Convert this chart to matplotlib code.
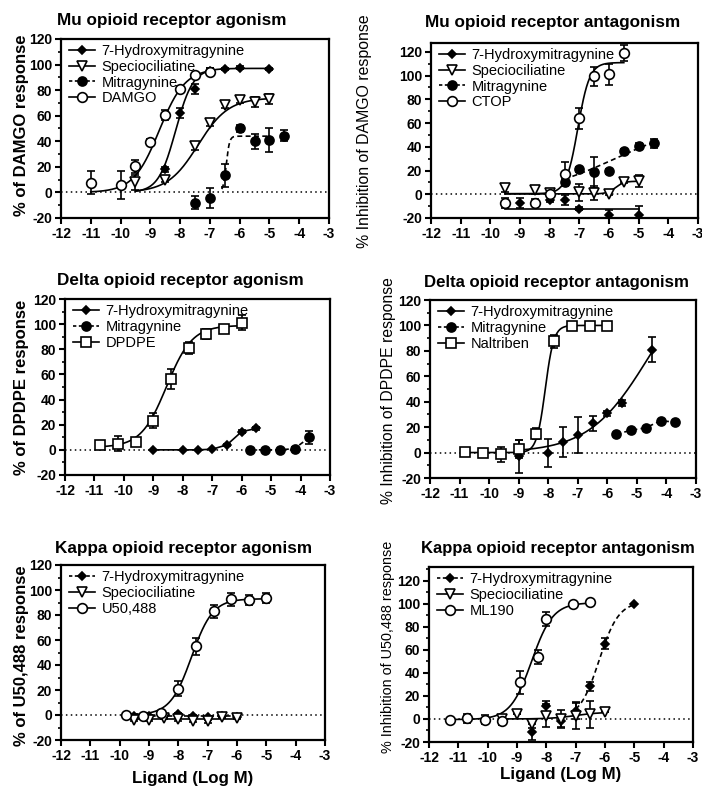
import numpy as np
import matplotlib
matplotlib.use("Agg")
import matplotlib.pyplot as plt
from matplotlib.lines import Line2D
from matplotlib.ticker import MultipleLocator

plt.rcParams['font.family'] = ['Liberation Sans', 'DejaVu Sans']
plt.rcParams['axes.unicode_minus'] = False

W, H = 702, 791

# ---------------- data (log M, % response, SEM) ----------------
# Mu agonism
mu_ag_oh_x = [-8.5, -8.0, -7.5, -7.0, -6.5, -6.0, -5.0]
mu_ag_oh_y = [18, 62, 81, 95, 96.5, 97.5, 96.5]
mu_ag_oh_e = [2, 4, 4, 2, 1, 1, 1]
mu_ag_oh_fit = [0, 97, -8.15, 1.5, -9.5, -5.0]

mu_ag_sp_x = [-9.5, -8.5, -7.5, -7.0, -6.5, -6.0, -5.5, -5.0]
mu_ag_sp_y = [8, 10, 36.5, 54, 68, 72, 70.5, 73]
mu_ag_sp_e = [6, 2, 3, 2, 2, 2, 4, 4]
mu_ag_sp_fit = [0, 74, -7.4, 0.85, -9.5, -5.0]

mu_ag_mg_x = [-7.5, -7.0, -6.5, -6.0, -5.5, -5.0, -4.5]
mu_ag_mg_y = [-8, -4.5, 13.5, 50, 40, 41, 44.5]
mu_ag_mg_e = [5, 8, 9, 3, 6, 9, 4]
mu_ag_mg_fit = [0, 44, -6.45, 8, -6.6, -5.0]

mu_ag_damgo_x = [-11.0, -10.0, -9.5, -9.0, -8.5, -8.0, -7.5, -7.0]
mu_ag_damgo_y = [7.5, 6, 20.5, 39.5, 60.5, 81, 91.5, 94.5]
mu_ag_damgo_e = [9, 11, 5, 2, 4, 2, 2, 3]
mu_ag_damgo_fit = [0, 97, -8.7, 1.0, -11.0, -7.0]

# Mu antagonism
mu_an_oh_x = [-9.0, -8.0, -7.5, -7.0, -6.0, -5.0]
mu_an_oh_y = [-7.5, -4.5, -5, -12, -17.5, -17.5]
mu_an_oh_e = [4, 2, 4, 1, 4, 8]
mu_an_oh_fit = [-12.5, -12.5, -7.0, 1.0, -9.5, -5.0]

mu_an_sp_x = [-9.5, -8.5, -8.0, -7.0, -6.5, -6.0, -5.5, -5.0]
mu_an_sp_y = [5, 3.5, 1, 1.5, 1, 0.5, 10.5, 11]
mu_an_sp_e = [3, 3, 1, 7, 6, 1, 1, 5]
mu_an_sp_fit = [0.3, 11, -5.78, 3.0, -9.5, -5.0]

mu_an_mg_x = [-7.5, -7.0, -6.5, -6.0, -5.5, -5.0, -4.5]
mu_an_mg_y = [10, 21, 18.5, 19.5, 36.5, 41, 43]
mu_an_mg_e = [3, 2, 13, 2, 2, 2, 4]
mu_an_mg_fit = [0, 60, -5.8, 0.33, -7.5, -4.5]

mu_an_ctop_x = [-9.5, -8.5, -8.0, -7.5, -7.0, -6.5, -6.0, -5.5]
mu_an_ctop_y = [-7.5, -7, 0, 17.5, 64, 99.5, 101, 119]
mu_an_ctop_e = [4, 3, 1, 10, 9, 8, 9, 7]
mu_an_ctop_fit = [0.5, 111, -7.05, 2.2, -9.5, -5.5]

# Delta agonism
de_ag_oh_x = [-9.0, -8.0, -7.5, -7.0, -6.5, -6.0, -5.5]
de_ag_oh_y = [0, 0, 0, 0.5, 4, 14.5, 17]
de_ag_oh_e = [0, 0, 0, 0, 1, 1, 1]

de_ag_mg_x = [-5.7, -5.2, -4.7, -4.2, -3.7]
de_ag_mg_y = [0, 0, 0, 1, 10]
de_ag_mg_e = [0, 0, 0, 1, 5]

de_ag_dp_x = [-10.8, -10.2, -9.6, -9.0, -8.4, -7.8, -7.2, -6.6, -6.0]
de_ag_dp_y = [4, 5, 6, 23, 56.5, 81, 92.5, 96.5, 101]
de_ag_dp_e = [3, 6, 3, 6, 8, 5, 4, 3, 6]
de_ag_dp_fit = [2, 99, -8.55, 1.0, -10.8, -6.0]

# Delta antagonism
de_an_oh_x = [-9.0, -8.0, -7.5, -7.0, -6.5, -6.0, -5.5, -4.5]
de_an_oh_y = [-3, 0, 8.5, 14, 23, 31, 39, 81]
de_an_oh_e = [13, 11, 12, 14, 6, 2, 2, 10]
de_an_oh_fit = [0, 150, -4.6, 0.43, -9.0, -4.5]

de_an_mg_x = [-5.7, -5.2, -4.7, -4.2, -3.7]
de_an_mg_y = [14.5, 17.5, 19.5, 25, 24]
de_an_mg_e = [1, 1, 1, 1, 1]

de_an_nt_x = [-10.8, -10.2, -9.6, -9.0, -8.4, -7.8, -7.2, -6.6, -6.0]
de_an_nt_y = [0.5, -0.5, -1.5, 2.5, 15, 87.5, 99.5, 99.5, 99.5]
de_an_nt_e = [2, 2, 6, 7, 4, 5, 1, 1, 1]
de_an_nt_fit = [0, 100, -8.1, 3.0, -10.8, -6.0]

# Kappa agonism
ka_ag_oh_x = [-9.5, -9.0, -8.5, -8.0, -7.5, -7.0, -6.5, -6.0]
ka_ag_oh_y = [-0.5, -1, -1, 1, -1, -1.5, -1, -1.5]
ka_ag_oh_e = [1, 1, 1, 1, 1, 1, 1, 1]
ka_ag_oh_fit = [-1, -1, -8.0, 1.0, -9.5, -6.0]

ka_ag_sp_x = [-9.5, -9.0, -8.5, -8.0, -7.5, -7.0, -6.5, -6.0]
ka_ag_sp_y = [-4, -4, -2.5, -3.5, -4.5, -5, -1.5, -2.5]
ka_ag_sp_e = [1, 1, 1, 1, 1, 1, 1, 1]
ka_ag_sp_fit = [-3.2, -3.2, -8.0, 1.0, -9.5, -6.0]

ka_ag_u50_x = [-9.8, -9.2, -8.6, -8.0, -7.4, -6.8, -6.2, -5.6, -5.0]
ka_ag_u50_y = [0, -0.5, 1.5, 21, 55, 83, 92.5, 92, 93.5]
ka_ag_u50_e = [1, 1, 1, 6, 7, 5, 5, 4, 4]
ka_ag_u50_fit = [0, 93, -7.55, 1.2, -9.8, -5.0]

# Kappa antagonism
ka_an_oh_x = [-8.5, -8.0, -7.5, -7.0, -6.5, -6.0, -5.0]
ka_an_oh_y = [-11, 11, -2, 7, 28.5, 65.5, 99.5]
ka_an_oh_e = [7, 5, 5, 7, 4, 5, 0]
ka_an_oh_fit = [0, 102, -6.2, 1.3, -7.0, -5.0]

ka_an_sp_x = [-9.5, -9.0, -8.5, -8.0, -7.5, -7.0, -6.5, -6.0]
ka_an_sp_y = [0, 4.5, -4, 3, 0, 3, 4, 6]
ka_an_sp_e = [0, 0, 4, 10, 8, 12, 12, 0]
ka_an_sp_fit = [0, 6, -7.0, 1.0, -9.5, -6.0]

ka_an_ml_x = [-11.3, -10.7, -10.1, -9.5, -8.9, -8.3, -8.0, -7.1, -6.5]
ka_an_ml_y = [-1, 0.5, -0.5, -1.5, 32, 54, 87, 99.5, 101.5]
ka_an_ml_e = [1, 4, 4, 4, 10, 6, 6, 1, 1]
ka_an_ml_fit = [-0.5, 101, -8.5, 1.2, -11.3, -6.5]

titles = ["Mu opioid receptor agonism", "Mu opioid receptor antagonism",
          "Delta opioid receptor agonism", "Delta opioid receptor antagonism",
          "Kappa opioid receptor agonism", "Kappa opioid receptor antagonism"]
ylabels = ["% of DAMGO response", "% Inhibition of DAMGO response",
           "% of DPDPE response", "% Inhibition of DPDPE response",
           "% of U50,488 response", "% Inhibition of U50,488 response"]


def hill(x, bottom, top, logec50, slope):
    return bottom + (top - bottom) / (1 + 10 ** ((logec50 - x) * slope))


STY = {
    'oh': dict(marker='D', ms=4.2, mfc='k'),
    'sp': dict(marker='v', ms=6.5, mfc='white'),
    'mg': dict(marker='o', ms=6.5, mfc='k'),
    'ref_o': dict(marker='o', ms=7, mfc='white'),
    'ref_s': dict(marker='s', ms=6.8, mfc='white'),
}


def series(ax, x, y, e, kind, fit=None, connect=False, dashed=False):
    ls = (0, (3, 2)) if dashed else '-'
    if fit is not None:
        b, t, l, s, x0, x1 = fit
        xx = np.linspace(x0, x1, 300)
        ax.plot(xx, hill(xx, b, t, l, s), color='k', lw=1.2, ls=ls, zorder=2)
    elif connect:
        ax.plot(x, y, color='k', lw=1.2, ls=ls, zorder=2)
    ax.errorbar(x, y, yerr=e, fmt='none', ecolor='k', elinewidth=1.2,
                capsize=3.2, capthick=1.2, zorder=3)
    st = STY[kind]
    ax.plot(x, y, ls='none', marker=st['marker'], ms=st['ms'], mfc=st['mfc'],
            mec='k', mew=1.2, zorder=4)


def handle(kind, dashed=False):
    st = STY[kind]
    return Line2D([], [], color='k', lw=1.2, ls=(0, (2, 1.5)) if dashed else '-',
                  marker=st['marker'], ms=st['ms'], mfc=st['mfc'], mec='k', mew=1.2)


fig = plt.figure(figsize=(W / 100, H / 100), dpi=100)

# axes boxes in pixels: left, right, top, bottom, ymax
boxes = [(61, 329, 39, 218, 120), (431, 698, 43, 218, 127.5),
         (65, 330, 299, 475, 120), (430, 696, 300, 478, 120),
         (61, 325, 565, 740, 120), (429, 693, 567, 742, 132)]
axes = []
for (l, r, t, b, ym) in boxes:
    ax = fig.add_axes([l / W, 1 - b / H, (r - l) / W, (b - t) / H])
    ax.set_xlim(-12, -3)
    ax.set_ylim(-20, ym)
    ax.set_xticks(np.arange(-12, -2, 1))
    ax.set_yticks(np.arange(-20, 121, 20))
    ax.yaxis.set_minor_locator(MultipleLocator(10))
    ax.tick_params(axis='both', which='major', direction='out', length=4.5,
                   width=1.5, labelsize=10, pad=2)
    ax.tick_params(axis='y', which='minor', direction='out', length=2.5, width=1.2)
    for lab in ax.get_xticklabels() + ax.get_yticklabels():
        lab.set_fontweight('bold')
    for sp in ax.spines.values():
        sp.set_linewidth(1.6)
    ax.axhline(0, color='k', ls=(0, (1, 2.2)), lw=1.1, zorder=1)
    axes.append(ax)

ax1, ax2, ax3, ax4, ax5, ax6 = axes

series(ax1, mu_ag_oh_x, mu_ag_oh_y, mu_ag_oh_e, 'oh', fit=mu_ag_oh_fit)
series(ax1, mu_ag_sp_x, mu_ag_sp_y, mu_ag_sp_e, 'sp', fit=mu_ag_sp_fit)
series(ax1, mu_ag_mg_x, mu_ag_mg_y, mu_ag_mg_e, 'mg', fit=mu_ag_mg_fit, dashed=True)
series(ax1, mu_ag_damgo_x, mu_ag_damgo_y, mu_ag_damgo_e, 'ref_o', fit=mu_ag_damgo_fit)
leg1 = [(handle('oh'), "7-Hydroxymitragynine"), (handle('sp'), "Speciociliatine"),
        (handle('mg', True), "Mitragynine"), (handle('ref_o'), "DAMGO")]

series(ax2, mu_an_oh_x, mu_an_oh_y, mu_an_oh_e, 'oh', fit=mu_an_oh_fit)
series(ax2, mu_an_sp_x, mu_an_sp_y, mu_an_sp_e, 'sp', fit=mu_an_sp_fit)
series(ax2, mu_an_mg_x, mu_an_mg_y, mu_an_mg_e, 'mg', fit=mu_an_mg_fit, dashed=True)
series(ax2, mu_an_ctop_x, mu_an_ctop_y, mu_an_ctop_e, 'ref_o', fit=mu_an_ctop_fit)
leg2 = [(handle('oh'), "7-Hydroxymitragynine"), (handle('sp'), "Speciociliatine"),
        (handle('mg', True), "Mitragynine"), (handle('ref_o'), "CTOP")]

series(ax3, de_ag_oh_x, de_ag_oh_y, de_ag_oh_e, 'oh', connect=True)
series(ax3, de_ag_mg_x, de_ag_mg_y, de_ag_mg_e, 'mg', connect=True, dashed=True)
series(ax3, de_ag_dp_x, de_ag_dp_y, de_ag_dp_e, 'ref_s', fit=de_ag_dp_fit)
leg3 = [(handle('oh'), "7-Hydroxymitragynine"), (handle('mg', True), "Mitragynine"),
        (handle('ref_s'), "DPDPE")]

series(ax4, de_an_oh_x, de_an_oh_y, de_an_oh_e, 'oh', fit=de_an_oh_fit)
series(ax4, de_an_mg_x, de_an_mg_y, de_an_mg_e, 'mg', connect=True, dashed=True)
series(ax4, de_an_nt_x, de_an_nt_y, de_an_nt_e, 'ref_s', fit=de_an_nt_fit)
leg4 = [(handle('oh'), "7-Hydroxymitragynine"), (handle('mg', True), "Mitragynine"),
        (handle('ref_s'), "Naltriben")]

series(ax5, ka_ag_oh_x, ka_ag_oh_y, ka_ag_oh_e, 'oh', fit=ka_ag_oh_fit, dashed=True)
series(ax5, ka_ag_sp_x, ka_ag_sp_y, ka_ag_sp_e, 'sp', fit=ka_ag_sp_fit)
series(ax5, ka_ag_u50_x, ka_ag_u50_y, ka_ag_u50_e, 'ref_o', fit=ka_ag_u50_fit)
leg5 = [(handle('oh', True), "7-Hydroxymitragynine"), (handle('sp'), "Speciociliatine"),
        (handle('ref_o'), "U50,488")]

series(ax6, ka_an_oh_x, ka_an_oh_y, ka_an_oh_e, 'oh', fit=ka_an_oh_fit, dashed=True)
series(ax6, ka_an_sp_x, ka_an_sp_y, ka_an_sp_e, 'sp', fit=ka_an_sp_fit)
series(ax6, ka_an_ml_x, ka_an_ml_y, ka_an_ml_e, 'ref_o', fit=ka_an_ml_fit)
leg6 = [(handle('oh', True), "7-Hydroxymitragynine"), (handle('sp'), "Speciociliatine"),
        (handle('ref_o'), "ML190")]

for ax, lg in zip(axes, [leg1, leg2, leg3, leg4, leg5, leg6]):
    ax.legend([h for h, _ in lg], [t for _, t in lg], loc='upper left',
              bbox_to_anchor=(0.01, 1.0), frameon=False, fontsize=10.5,
              handlelength=1.8, handletextpad=0.45, labelspacing=0.12,
              borderaxespad=0.2, borderpad=0.15)

# titles (left aligned) and axis labels, pixel positions
title_pos = [(57, 20, 12.3), (425, 22, 12.3), (57, 280, 12.3), (424, 282, 12.1),
             (55, 548, 12.3), (421, 548, 12.0)]
for (x, y, fs), t in zip(title_pos, titles):
    fig.text(x / W, 1 - y / H, t, ha='left', va='center', fontsize=fs,
             fontweight='bold')

ylab_pos = [(22, 125, 'bold', 12), (364, 131, 'normal', 11.4),
            (22, 387, 'bold', 12), (389, 391, 'normal', 11.3),
            (22, 656, 'bold', 12), (388, 647, 'normal', 10.4)]
for (x, y, fw, fs), t in zip(ylab_pos, ylabels):
    fig.text(x / W, 1 - y / H, t, ha='center', va='center', rotation=90,
             fontsize=fs, fontweight=fw)

fig.text(193 / W, 1 - 778 / H, "Ligand (Log M)", ha='center', va='center',
         fontsize=12.2, fontweight='bold')
fig.text(561 / W, 1 - 775 / H, "Ligand (Log M)", ha='center', va='center',
         fontsize=12.2, fontweight='bold')

fig.savefig("out.png", dpi=100)
